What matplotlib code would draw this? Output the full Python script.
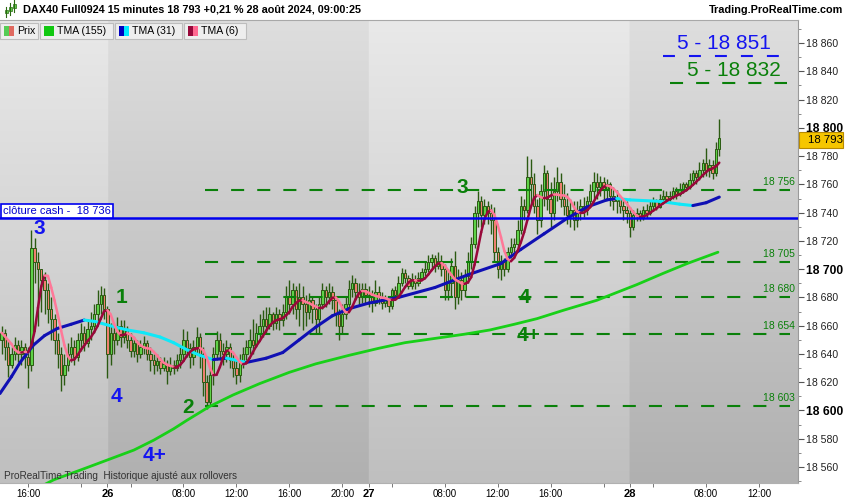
import numpy as np
import pandas as pd
import matplotlib
matplotlib.use("Agg")
import matplotlib.pyplot as plt
import matplotlib.transforms as mtransforms
from matplotlib.collections import LineCollection
from matplotlib.patches import Rectangle

plt.rcParams['font.family'] = ['Liberation Sans', 'DejaVu Sans']
plt.rcParams['lines.scale_dashes'] = False

# DAX40 Full0924, 15 min bars, Fri 23 Aug 14:00 -> Wed 28 Aug 09:00 (no night gaps)
first_open = 18650

close_fri = [18655, 18645, 18632, 18640, 18646, 18640, 18645, 18638, 18632, 18715,
             18705, 18700, 18692, 18685, 18672, 18665, 18650, 18640, 18625, 18632,
             18640, 18645, 18638, 18650, 18655, 18648, 18658, 18660, 18668, 18675,
             18682, 18672]
high_fri = [18660, 18658, 18650, 18645, 18652, 18650, 18650, 18648, 18645, 18728,
            18722, 18712, 18700, 18698, 18690, 18680, 18668, 18655, 18645, 18640,
            18648, 18652, 18650, 18655, 18662, 18660, 18665, 18670, 18675, 18685,
            18688, 18687]
low_fri = [18640, 18636, 18624, 18630, 18636, 18634, 18632, 18630, 18616, 18628,
           18690, 18660, 18670, 18668, 18662, 18650, 18640, 18630, 18614, 18618,
           18628, 18634, 18632, 18635, 18642, 18642, 18645, 18650, 18655, 18662,
           18668, 18665]

close_26 = [18640, 18655, 18650, 18660, 18652, 18658, 18650, 18642, 18648, 18640,
            18645, 18648, 18640, 18636, 18632, 18635, 18630, 18633, 18628, 18632,
            18630, 18636, 18640, 18650, 18644, 18638, 18645, 18652, 18640, 18620,
            18606, 18625, 18640, 18650, 18642, 18640, 18645, 18636, 18630, 18625,
            18635, 18640, 18645, 18650, 18646, 18655, 18660, 18665, 18660, 18668,
            18662, 18668, 18664, 18670, 18680, 18675, 18685, 18672, 18680, 18675,
            18670, 18678, 18672, 18665, 18675, 18685, 18680, 18684, 18678, 18668,
            18660, 18668, 18675, 18686, 18690, 18684, 18680, 18686, 18682]
high_26 = [18674, 18662, 18660, 18666, 18664, 18664, 18660, 18655, 18652, 18650,
           18650, 18653, 18650, 18645, 18640, 18640, 18638, 18638, 18636, 18638,
           18636, 18640, 18645, 18658, 18656, 18648, 18650, 18659, 18655, 18645,
           18625, 18630, 18645, 18656, 18655, 18648, 18650, 18648, 18640, 18636,
           18640, 18645, 18650, 18658, 18665, 18662, 18668, 18671, 18673, 18673,
           18670, 18673, 18672, 18675, 18688, 18692, 18690, 18688, 18690, 18688,
           18682, 18683, 18680, 18675, 18680, 18690, 18688, 18690, 18688, 18680,
           18672, 18675, 18680, 18692, 18696, 18694, 18690, 18690, 18690]
low_26 = [18623, 18632, 18640, 18646, 18645, 18648, 18644, 18638, 18638, 18634,
          18637, 18640, 18636, 18628, 18626, 18628, 18626, 18628, 18619, 18625,
          18626, 18628, 18630, 18636, 18638, 18630, 18632, 18640, 18630, 18610,
          18601, 18603, 18618, 18636, 18636, 18632, 18634, 18630, 18624, 18619,
          18620, 18630, 18636, 18640, 18640, 18645, 18650, 18652, 18655, 18658,
          18657, 18658, 18657, 18660, 18665, 18668, 18668, 18665, 18660, 18657,
          18660, 18665, 18662, 18655, 18655, 18672, 18673, 18675, 18672, 18660,
          18650, 18655, 18665, 18672, 18680, 18678, 18674, 18676, 18676]

close_27 = [18680, 18676, 18684, 18680, 18676, 18678, 18674, 18685, 18682, 18690,
            18697, 18694, 18688, 18693, 18690, 18694, 18698, 18700, 18705, 18708,
            18702, 18706, 18700, 18685, 18690, 18702, 18680, 18692, 18685, 18695,
            18705, 18718, 18740, 18748, 18738, 18745, 18740, 18735, 18712, 18700,
            18705, 18700, 18712, 18716, 18718, 18728, 18745, 18742, 18765, 18760,
            18745, 18735, 18755, 18768, 18750, 18740, 18755, 18762, 18750, 18745,
            18738, 18742, 18735, 18740, 18745, 18742, 18748, 18755, 18762, 18758,
            18762, 18756, 18760, 18752, 18748, 18750, 18745, 18742, 18740]
high_27 = [18688, 18685, 18692, 18688, 18684, 18682, 18680, 18687, 18688, 18695,
           18701, 18700, 18696, 18697, 18696, 18698, 18701, 18706, 18710, 18711,
           18710, 18712, 18710, 18704, 18700, 18708, 18713, 18700, 18698, 18700,
           18712, 18723, 18745, 18755, 18752, 18750, 18748, 18746, 18744, 18716,
           18710, 18708, 18716, 18722, 18722, 18735, 18752, 18750, 18780, 18778,
           18768, 18750, 18760, 18774, 18770, 18762, 18765, 18772, 18768, 18760,
           18754, 18750, 18748, 18748, 18750, 18751, 18752, 18760, 18769, 18768,
           18766, 18765, 18764, 18762, 18758, 18756, 18752, 18750, 18748]
low_27 = [18673, 18670, 18674, 18675, 18672, 18673, 18670, 18672, 18678, 18680,
          18688, 18690, 18686, 18686, 18686, 18688, 18692, 18695, 18698, 18700,
          18698, 18700, 18695, 18678, 18678, 18680, 18672, 18675, 18678, 18680,
          18690, 18700, 18715, 18730, 18730, 18732, 18732, 18725, 18705, 18694,
          18692, 18695, 18698, 18708, 18712, 18715, 18725, 18735, 18740, 18745,
          18740, 18725, 18730, 18745, 18742, 18730, 18735, 18748, 18744, 18738,
          18732, 18730, 18728, 18730, 18735, 18737, 18738, 18745, 18750, 18750,
          18752, 18750, 18750, 18745, 18742, 18740, 18740, 18735, 18733]

close_28 = [18730, 18738, 18740, 18736, 18742, 18740, 18745, 18748, 18744, 18750,
            18752, 18750, 18752, 18755, 18753, 18757, 18760, 18758, 18763, 18768,
            18765, 18770, 18775, 18770, 18774, 18768, 18785, 18793]
high_28 = [18744, 18742, 18743, 18742, 18745, 18746, 18748, 18751, 18750, 18753,
           18756, 18755, 18755, 18758, 18758, 18761, 18762, 18762, 18768, 18770,
           18770, 18776, 18778, 18786, 18778, 18777, 18790, 18806]
low_28 = [18723, 18728, 18734, 18734, 18735, 18736, 18738, 18742, 18742, 18743,
          18747, 18747, 18748, 18750, 18750, 18752, 18754, 18755, 18757, 18760,
          18760, 18763, 18765, 18766, 18765, 18764, 18766, 18780]

# TMA(31) and TMA(155) at these bar numbers
tma31_bar = [-0.5, 3, 5.6, 9.5, 13, 16.8, 21, 25, 28.2, 32.8, 38, 43, 47.9, 52, 56, 60,
             64, 68, 74, 80, 85, 90, 95, 100, 105, 111, 120, 131, 141, 151, 157, 164,
             171, 177, 183, 186, 190, 199, 205, 209, 213, 217]
tma31_val = [18612, 18624, 18634, 18646, 18653, 18658, 18661, 18664, 18663, 18660,
             18657, 18655, 18652, 18648, 18643, 18639, 18636, 18637, 18634, 18637,
             18641, 18650, 18659, 18667, 18672, 18676, 18680, 18687, 18696, 18704,
             18714, 18725, 18736, 18744, 18749, 18750, 18749, 18748, 18746, 18745,
             18747, 18751]
tma155_bar = [10, 15.8, 24, 32, 40, 46, 52, 56, 63, 70, 78, 87, 95, 105, 114, 122,
              131, 140, 147.7, 155, 161.9, 170, 180, 192, 200, 207.3, 216.6]
tma155_val = [18544, 18551, 18558, 18565, 18572, 18579, 18587, 18593, 18603, 18611,
              18619, 18627, 18633, 18639, 18644, 18648, 18651, 18654, 18657, 18661,
              18665, 18671, 18678, 18689, 18697, 18704, 18712]

levels = [18756, 18705, 18680, 18654, 18603]
target_blue = 18851
target_green = 18832
cash_close = 18736

xtick_bar = [8, 32, 55, 71, 87, 103, 111, 134, 150, 166, 190, 213, 229]
xtick_lab = ["16:00", "26", "08:00", "12:00", "16:00", "20:00", "27",
             "08:00", "12:00", "16:00", "28", "08:00", "12:00"]
xminor_bar = [24, 39, 118, 182, 197]
day_start = [32, 111, 190]

close = np.array(close_fri + close_26 + close_27 + close_28, dtype=float)
high = np.array(high_fri + high_26 + high_27 + high_28, dtype=float)
low = np.array(low_fri + low_26 + low_27 + low_28, dtype=float)
bars = np.arange(len(close))
opn = np.r_[first_open, close[:-1]]

tma6 = pd.Series(close).rolling(3, min_periods=1).mean().rolling(4, min_periods=1).mean().values

XLIM = (-0.48, 240.8)
YLIM = (18548.7, 18876.3)

GREEN = '#0a800a'
BLUE = '#1414f0'
EDGE = '#2b5a12'


def px(x, y, w=0, h=0):
    # pixel box (top-left origin) -> figure fraction
    return x / 850, 1 - (y + h) / 500, w / 850, h / 500


def colored_line(ax, x, y, up, down, lw, z):
    x = np.asarray(x, float)
    y = np.asarray(y, float)
    pts = np.column_stack([x, y])
    segs = np.stack([pts[:-1], pts[1:]], axis=1)
    cols = [up if b >= a else down for a, b in zip(y[:-1], y[1:])]
    ax.add_collection(LineCollection(segs, colors=cols, linewidths=lw, zorder=z,
                                     capstyle='round', joinstyle='round'))


fig = plt.figure(figsize=(8.5, 5), dpi=100)
fig.patch.set_facecolor('white')
ax = fig.add_axes([0, 17 / 500, 798 / 850, 463 / 500])
ax.set_xlim(*XLIM)
ax.set_ylim(*YLIM)

# background: vertical gradient, alternate days a bit darker
xs = np.linspace(XLIM[0], XLIM[1], 900)
dark = np.zeros_like(xs, dtype=bool)
dark |= (xs >= day_start[0]) & (xs < day_start[1])
dark |= xs >= day_start[2]
t = np.linspace(0, 1, 300)[:, None]
light_col = 233 - 42 * t
dark_col = 222 - 46 * t
g = np.where(dark[None, :], dark_col, light_col) / 255.0
bg = np.dstack([g, g, g])
ax.imshow(bg, extent=(XLIM[0], XLIM[1], YLIM[0], YLIM[1]), aspect='auto',
          origin='upper', zorder=0, interpolation='bilinear')

# candles
up = close >= opn
body_lo = np.minimum(opn, close)
body_hi = np.maximum(opn, close)
ax.vlines(bars, np.minimum(low, body_lo), np.maximum(high, body_hi),
          color=EDGE, lw=1.0, zorder=3)
ax.bar(bars, np.maximum(body_hi - body_lo, 0.7), bottom=body_lo, width=0.72,
       color=np.where(up, '#5ed248', '#ee8070'), edgecolor=EDGE, linewidth=0.7, zorder=4)

# support / resistance levels
for lv in levels:
    ax.plot([61.5, 238.4], [lv, lv], color=GREEN, lw=1.5, dashes=(9.4, 9.4), zorder=4.5)
    ax.annotate(f"{lv:,}".replace(",", " "), (239.8, lv), xytext=(0, 2.5),
                textcoords='offset points', ha='right', va='bottom',
                fontsize=7.5, color=GREEN, zorder=7)
ax.plot([200, 235.5], [target_blue, target_blue], color=BLUE, lw=1.5,
        dashes=(8.6, 10.1), zorder=4.5)
ax.plot([202, 237.6], [target_green, target_green], color=GREEN, lw=1.5,
        dashes=(9.4, 9.4), zorder=4.5)
ax.text(218.5, target_blue + 8.5, "5 - " + f"{target_blue:,}".replace(",", " "),
        ha='center', va='center', fontsize=15, color=BLUE, zorder=7)
ax.text(221.5, target_green + 8.5, "5 - " + f"{target_green:,}".replace(",", " "),
        ha='center', va='center', fontsize=15, color=GREEN, zorder=7)

# moving averages
ax.plot(tma155_bar, tma155_val, color='#18d018', lw=2.0, zorder=5,
        solid_capstyle='round', solid_joinstyle='round')
colored_line(ax, tma31_bar, tma31_val, '#1010b4', '#10e8f8', 2.2, 5)
colored_line(ax, bars, tma6, '#98083a', '#ff7898', 1.8, 5.2)

# close cash line
ax.axhline(cash_close, color='#0000ee', lw=1.8, zorder=6)
ax.text(0.004, cash_close + 5.2, "clôture cash -  " + f"{cash_close:,}".replace(",", " "),
        transform=mtransforms.blended_transform_factory(ax.transAxes, ax.transData),
        fontsize=8, va='center', ha='left', color='#0000cc', zorder=7,
        bbox=dict(boxstyle='square,pad=0.2', fc='white', ec='#0000ee', lw=1.2))

# wave counts
waves = [("3", 11.3, 18729, BLUE), ("1", 36.4, 18680, GREEN), ("4", 34.6, 18610, BLUE),
         ("2", 56.4, 18602, GREEN), ("4+", 46.4, 18568, BLUE), ("3", 139.2, 18758, GREEN),
         ("4", 158.0, 18680, GREEN), ("4+", 159.2, 18653, GREEN)]
for lab, bx, by, col in waves:
    ax.text(bx, by, lab, ha='center', va='center', fontsize=15, fontweight='bold',
            color=col, zorder=7)

# axes
ax.spines['left'].set_visible(False)
ax.spines['top'].set_color('#a8a8a8')
ax.spines['right'].set_color('#9a9a9a')
ax.spines['bottom'].set_color('#b0b0b0')
ax.yaxis.tick_right()
yt = np.arange(18560, 18861, 20)
ax.set_yticks(yt)
ax.set_yticks(np.arange(18550, 18871, 10), minor=True)
ax.set_yticklabels([f"{v:,}".replace(",", " ") for v in yt])
for lab, v in zip(ax.get_yticklabels(), yt):
    if v % 100 == 0:
        lab.set_fontweight('bold')
        lab.set_fontsize(8.7)
        lab.set_color('black')
    else:
        lab.set_fontsize(7.6)
        lab.set_color('#222222')
ax.tick_params(axis='y', which='major', length=4, width=0.8, color='#555555', pad=2)
ax.tick_params(axis='y', which='minor', length=2, width=0.6, color='#777777')
ax.set_xticks(xtick_bar)
ax.set_xticklabels(xtick_lab)
ax.set_xticks(xminor_bar, minor=True)
for lab, txt in zip(ax.get_xticklabels(), xtick_lab):
    if ":" in txt:
        lab.set_fontsize(7)
    else:
        lab.set_fontsize(8)
        lab.set_fontweight('bold')
ax.tick_params(axis='x', which='both', length=3, width=0.7, color='#777777', pad=1)

# last price tag
tr = mtransforms.blended_transform_factory(ax.transAxes, ax.transData)
ax.add_patch(Rectangle((1.0015, close[-1] - 7.0), 44 / 798, 11.0, transform=tr,
                       fc='#f6c600', ec='#b88a00', lw=0.8, zorder=10, clip_on=False))
ax.text(1.012, close[-1] - 1.5, f"{int(close[-1]):,}".replace(",", " "), transform=tr,
        fontsize=8.2, va='center', ha='left', color='black', zorder=11, clip_on=False)

# header
fig.text(23 / 850, 1 - 10 / 500,
         "DAX40 Full0924 15 minutes 18 793 +0,21 % 28 août 2024, 09:00:25",
         fontsize=7.8, fontweight='bold', va='center', ha='left')
fig.text(843 / 850, 1 - 10 / 500, "Trading.ProRealTime.com", fontsize=7.8,
         fontweight='bold', va='center', ha='right')
for cx, yb, yt_, ob, cb in [(6, 9, 15, 10, 13), (10, 5, 13, 7, 11), (14, 2, 10, 4, 8)]:
    fig.add_artist(plt.Line2D([cx / 850, cx / 850], [1 - yt_ / 500 - 0.004, 1 - yb / 500 + 0.004],
                              transform=fig.transFigure, color='#2b6a12', lw=0.8))
    fig.add_artist(Rectangle(px(cx - 1.5, ob, 3, cb - ob)[:2], 3 / 850, (cb - ob) / 500,
                             transform=fig.transFigure, fc='#5ed248', ec='#2b6a12', lw=0.5))

# legend boxes
legend = [("Prix", 0, 38, ('#55cc55', '#e06a60')),
          ("TMA (155)", 40, 73, ('#10c810', '#10c810')),
          ("TMA (31)", 115, 67, ('#0000c0', '#00e8ff')),
          ("TMA (6)", 184, 62, ('#98083a', '#ff6890'))]
for name, x0, w, (c1, c2) in legend:
    fig.add_artist(Rectangle(px(x0, 23, w, 16)[:2], w / 850, 16 / 500,
                             transform=fig.transFigure, fc='#eeeeee', ec='#bdbdbd', lw=0.8))
    fig.add_artist(Rectangle(px(x0 + 4, 26, 5, 10)[:2], 5 / 850, 10 / 500,
                             transform=fig.transFigure, fc=c1, ec='none'))
    fig.add_artist(Rectangle(px(x0 + 9, 26, 5, 10)[:2], 5 / 850, 10 / 500,
                             transform=fig.transFigure, fc=c2, ec='none'))
    fig.text((x0 + 17) / 850, 1 - 31 / 500, name, fontsize=7.6, va='center', ha='left')

fig.text(4 / 850, 1 - 476 / 500, "ProRealTime Trading  Historique ajusté aux rollovers",
         fontsize=7.2, color='#333333', va='center', ha='left')

fig.savefig("out.png", dpi=100)
